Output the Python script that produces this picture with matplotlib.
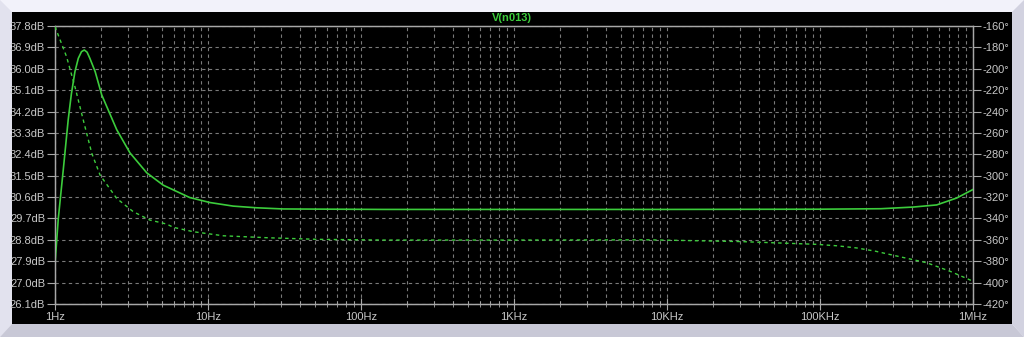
"""LTspice-style Bode plot of V(n013): magnitude (solid) and phase (dashed)."""
import matplotlib
matplotlib.use("Agg")
import matplotlib.pyplot as plt
from matplotlib.patches import Polygon, Rectangle
from matplotlib.ticker import FixedLocator, LogLocator, NullFormatter

W, H = 1024, 337

# magnitude trace
mag_freq = [1.0, 1.05, 1.133, 1.22, 1.28, 1.35, 1.42, 1.49, 1.554, 1.62, 1.69,
            1.83, 2.02, 2.53, 3.09, 3.98, 5.1, 7.6, 10.3, 14.6, 20.7, 31, 139,
            1e3, 1e4, 1e5, 2.5e5, 4.07e5, 5.79e5, 7.82e5, 1e6]
mag_db = [27.78, 29.67, 31.76, 33.86, 34.95, 35.88, 36.44, 36.72, 36.79, 36.7,
          36.44, 35.88, 34.9, 33.44, 32.46, 31.62, 31.1, 30.58, 30.37, 30.22,
          30.15, 30.1, 30.08, 30.08, 30.08, 30.09, 30.11, 30.18, 30.27, 30.56,
          30.92]

# phase trace
ph_freq = [1.0, 1.19, 1.35, 1.53, 1.74, 1.97, 2.53, 3.25, 4.17, 5.36, 5.94, 8.03,
           12.6, 24.2, 51, 140, 1e3, 7.74e3, 3e4, 9.5e4, 1.3e5, 1.74e5, 2.3e5,
           3.01e5, 4.98e5, 7.08e5, 1e6]
ph_deg = [-160.6, -188.7, -216.8, -247.9, -279.1, -299.4, -321.2, -333.7, -341.5,
          -345.2, -348.3, -352.4, -356.2, -358.0, -359.5, -360.2, -360.2, -360.0,
          -361.6, -364.2, -365.6, -367.6, -370.6, -374.4, -381.4, -389.4, -398.7]

db_ticks = [26.1 + 0.9 * i for i in range(14)]
deg_ticks = list(range(-420, -159, 20))
freq_ticks = [1, 10, 100, 1e3, 1e4, 1e5, 1e6]
freq_labels = ["1Hz", "10Hz", "100Hz", "1KHz", "10KHz", "100KHz", "1MHz"]

TRACE = "#3ccc3c"
TEXT = "#c8c8c8"
GRID = "#7a7a7a"
SPINE = "#a8a8a8"
FONT = ["Liberation Sans", "DejaVu Sans"]
FS = 8

plt.rcParams["font.family"] = FONT

fig = plt.figure(figsize=(W / 100, H / 100), dpi=100)
fig.patch.set_facecolor("#f2f2fa")


def px(x, y):
    return (x / W, 1 - y / H)


# bevelled frame and black panel, kept behind the axes
frame = [
    ([px(0, 0), px(12, 12), px(12, 324), px(0, 337)], "#e2e2ee"),
    ([px(0, 337), px(12, 324), px(1012, 324), px(1024, 337)], "#c8c8d6"),
    ([px(1012, 12), px(1024, 0), px(1024, 337), px(1012, 324)], "#d2d2e0"),
]
for pts, col in frame:
    fig.patches.append(Polygon(pts, closed=True, transform=fig.transFigure,
                               facecolor=col, edgecolor="none", zorder=-10))
fig.patches.append(Rectangle(px(12, 324), 1000 / W, 312 / H,
                             transform=fig.transFigure, facecolor="black",
                             edgecolor="none", zorder=-10))

left, right, top, bottom = 55, 973, 26, 304
ax = fig.add_axes([left / W, 1 - bottom / H, (right - left) / W, (bottom - top) / H])
ax.set_facecolor("black")
ax.set_xscale("log")
ax.set_xlim(1, 1e6)
ax.set_ylim(26.1, 37.8)

ax.plot(mag_freq, mag_db, color=TRACE, lw=1.2, zorder=3)

ax.xaxis.set_major_locator(FixedLocator(freq_ticks))
ax.set_xticklabels(freq_labels)
ax.xaxis.set_minor_locator(LogLocator(base=10, subs=range(2, 10), numticks=20))
ax.xaxis.set_minor_formatter(NullFormatter())
ax.yaxis.set_major_locator(FixedLocator(db_ticks))
ax.set_yticklabels([f"{v:.1f}dB" for v in db_ticks])

ax.grid(True, which="both", axis="x", color=GRID, lw=0.8, ls=(0, (3, 3)))
ax.grid(True, which="major", axis="y", color=GRID, lw=0.8, ls=(0, (3, 3)))
ax.set_axisbelow(True)

for s in ax.spines.values():
    s.set_color(SPINE)
    s.set_linewidth(1)

ax.tick_params(axis="y", which="major", direction="out", length=6, color=SPINE,
               labelcolor=TEXT, labelsize=FS, pad=1)
ax.tick_params(axis="x", which="major", direction="inout", length=8, color=SPINE,
               labelcolor=TEXT, labelsize=FS, pad=2)
ax.tick_params(axis="x", which="minor", direction="inout", length=5, color=SPINE)

ax2 = ax.twinx()
ax2.set_ylim(-420, -160)
ax2.plot(ph_freq, ph_deg, color=TRACE, lw=1.0, ls=(0, (2.5, 2.5)), zorder=3)
ax2.yaxis.set_major_locator(FixedLocator(deg_ticks))
ax2.set_yticklabels([f"{v}\u00b0" for v in deg_ticks])
ax2.tick_params(axis="y", direction="out", length=6, color=SPINE,
                labelcolor=TEXT, labelsize=FS, pad=1)
for s in ax2.spines.values():
    s.set_color(SPINE)

fig.text(0.5, 1 - 18 / H, "V(n013)", color=TRACE, fontsize=FS,
         fontweight="bold", ha="center", va="center")

fig.savefig("out.png", dpi=100, facecolor=fig.get_facecolor())
